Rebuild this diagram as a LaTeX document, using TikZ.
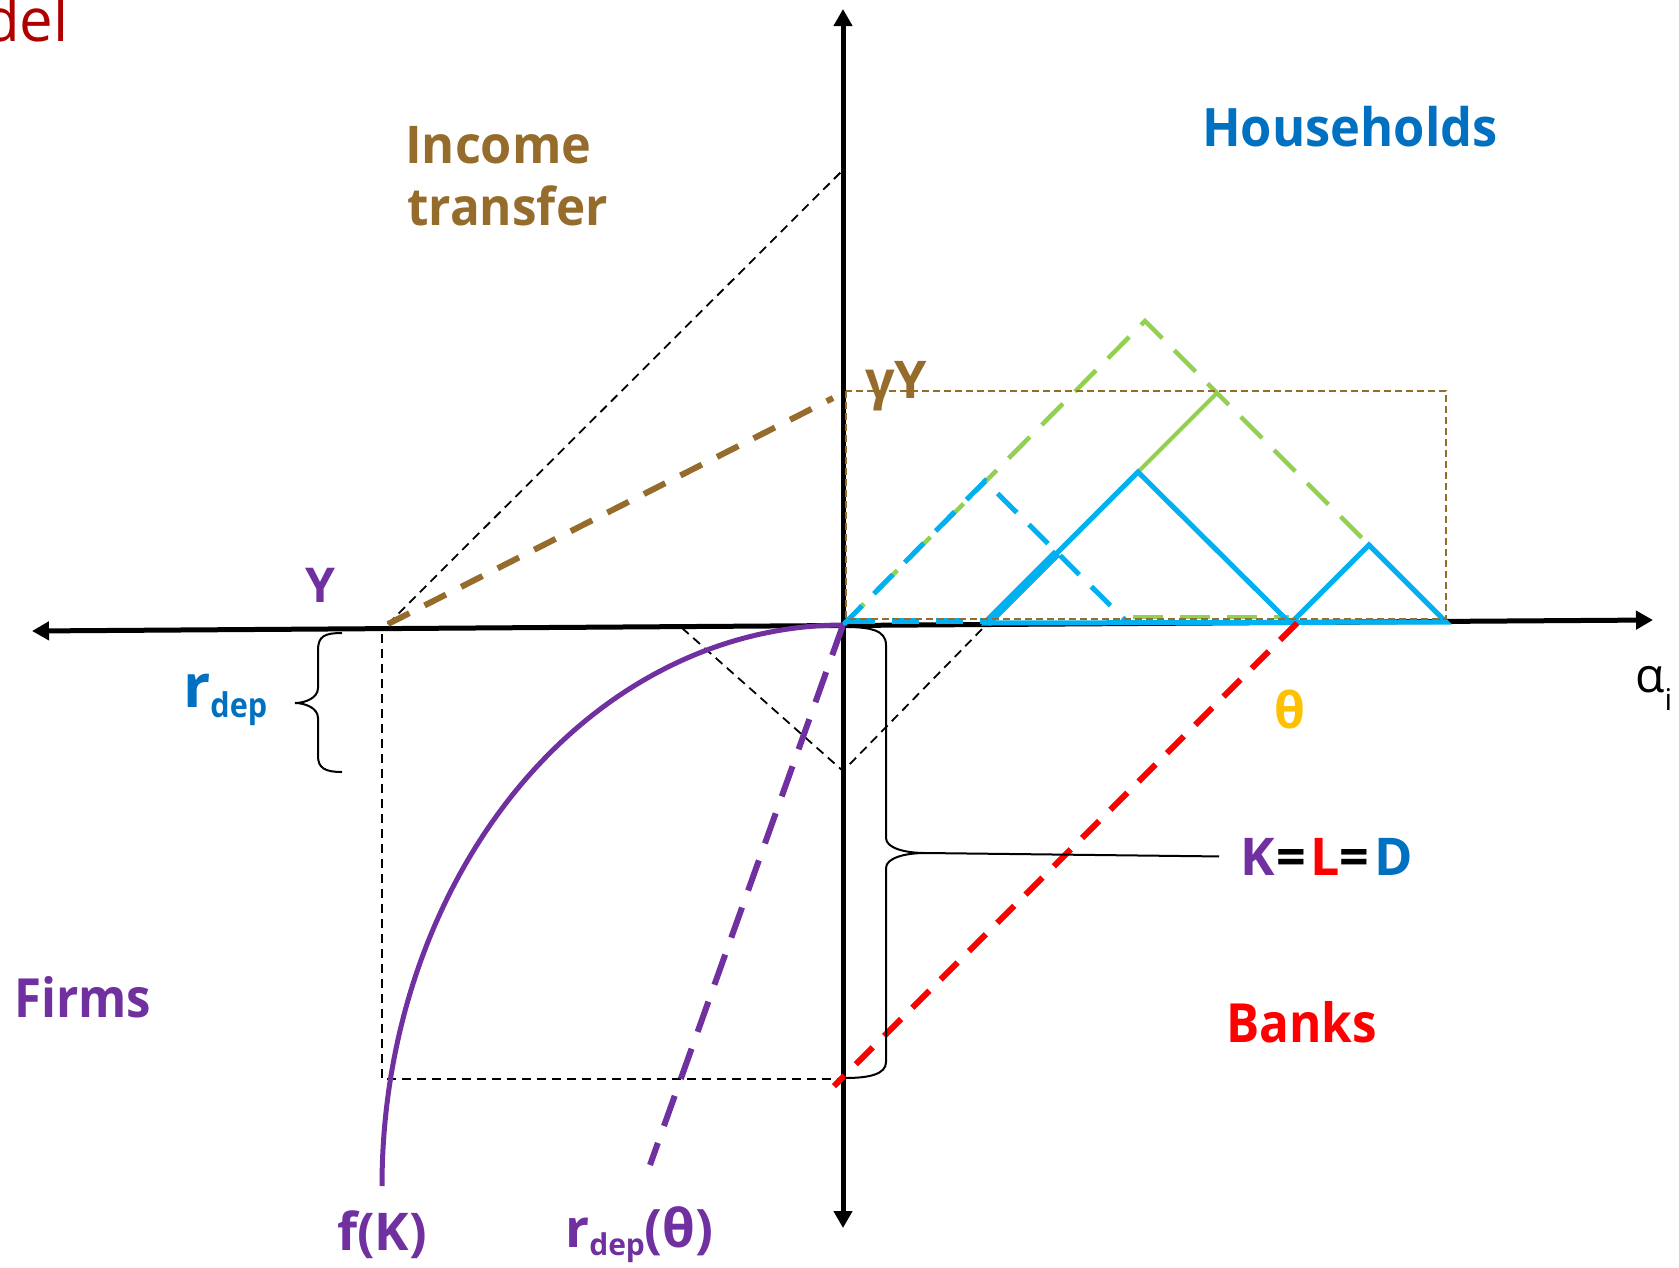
\documentclass[tikz,border=0pt]{standalone}
\usepackage{fontspec}
\setmainfont{Open Sans}
\usetikzlibrary{arrows.meta}
\definecolor{brn}{RGB}{150,108,44}
\definecolor{prp}{HTML}{7030A0}
\definecolor{dblue}{HTML}{0070C0}
\definecolor{lblue}{HTML}{00B0F0}
\definecolor{lgreen}{HTML}{92D050}
\definecolor{gold}{HTML}{FFC000}
\definecolor{rd}{HTML}{FF0000}
\definecolor{drd}{RGB}{175,0,0}
\newcommand{\fsz}[1]{\fontsize{#1}{#1}\selectfont}
\newcommand{\nrw}[2]{\scalebox{#1}[1]{#2}}
\begin{document}
\begin{tikzpicture}[x=1pt,y=-1pt,
  lbl/.style={inner sep=0pt, anchor=base west},
  axisline/.style={line width=5pt, {Triangle[length=17pt,width=18pt]}-{Triangle[length=17pt,width=18pt]}},
  guide/.style={line width=1.8pt, dash pattern=on 9pt off 6pt},
  bracepath/.style={line width=2pt},
  gdash/.style={lgreen, line width=4.5pt, dash pattern=on 30pt off 17pt},
  bdash/.style={lblue, line width=5pt, dash pattern=on 27pt off 17pt},
  bsolid/.style={lblue, line width=5pt, line join=miter},
]
\useasboundingbox (0,0) rectangle (1679,1267);
% coordinates
\coordinate (O) at (843,625);
\coordinate (axL) at (32,631);
\coordinate (axR) at (1653,620);
\coordinate (axT) at (843,9);
\coordinate (axB) at (843,1228);
\coordinate (Yp) at (388,624);
\coordinate (Yv) at (382,634);
\coordinate (Yb) at (382,1079);
\coordinate (Kb) at (843,1079);
\coordinate (vtop) at (843,170);
\coordinate (g1) at (682,628);
\coordinate (g2) at (843,771);
\coordinate (g3) at (987,624);
\coordinate (gYe) at (833,398);
\coordinate (tA) at (1145,321);
\coordinate (tB) at (1446,622);
\coordinate (sA) at (987,623);
\coordinate (sB) at (1217,393);
\coordinate (dA) at (985,481);
\coordinate (dB) at (1127,622);
\coordinate (p1) at (1138,472);
\coordinate (p2) at (1289,622);
\coordinate (p3) at (1292,622);
\coordinate (p4) at (1369,545);
\coordinate (rA) at (1297,623);
\coordinate (rB) at (834,1086);
\coordinate (pdB) at (650,1165);
\coordinate (bt) at (925,853);
% guides
\draw[guide] (Yp) -- (vtop);
\draw[guide] (Yv) -- (Yb) -- (Kb);
\draw[guide] (g1) -- (g2) -- (g3);
% axes
\draw[axisline] (axL) -- (axR);
\draw[axisline] (axB) -- (axT);
% green
\draw[gdash] (O) -- (tA) -- (tB);
\draw[gdash, line width=4pt] (1133,617) -- (1289,617);
\draw[lgreen, line width=4pt] (sA) -- (sB);
% blue
\draw[bdash] (O) -- (dA) -- (dB);
\draw[bdash, line width=6pt] (848,621) -- (987,621);
\draw[bsolid] (sA) -- (p1) -- (p2) -- (p3) -- (p4) -- (tB) -- cycle;
\draw[lblue, line width=9pt] (sA) -- (1057,553);
% brown
\draw[brn, line width=2pt, dash pattern=on 7pt off 4pt] (846,391) rectangle (1446,619);
\draw[brn, line width=6pt, dash pattern=on 24pt off 17pt] (Yp) -- (gYe);
% purple
\draw[prp, line width=5pt] plot[smooth, domain=0:90, samples=46] ({843-461*sin(\x)},{1186-561*cos(\x)});
\draw[prp, line width=6pt, dash pattern=on 32pt off 18pt] (O) -- (pdB);
% red
\draw[rd, line width=6pt, dash pattern=on 24pt off 16pt] (rA) -- (rB);
% braces
\draw[bracepath] (342,633) .. controls (325,633) and (318,636) .. (318,650) -- (318,688)
  .. controls (318,698) and (305,703) .. (295,703) .. controls (305,703) and (318,708) .. (318,718)
  -- (318,756) .. controls (318,768) and (325,772) .. (342,772);
\draw[bracepath] (845,627) .. controls (870,627) and (886,630) .. (886,645) -- (886,838)
  .. controls (886,848) and (905,853) .. (bt) .. controls (905,853) and (886,858) .. (886,868)
  -- (886,1062) .. controls (886,1074) and (870,1078) .. (845,1078);
% labels
\node[inner sep=0pt, anchor=base east, font=\fsz{60}, text=drd] (ttl) at (69,41) {del};
\node[lbl, font=\bfseries\fsz{52}, text=brn] (inc1) at (405,163) {\nrw{0.97}{Income}};
\node[lbl, font=\bfseries\fsz{52}, text=brn] (inc2) at (407,225) {\nrw{0.95}{transfer}};
\node[lbl, font=\bfseries\fsz{53}, text=dblue] (hh) at (1202,146) {\nrw{0.955}{Households}};
\node[lbl, font=\bfseries\fsz{52}, text=brn] (gy) at (865,398) {γY};
\node[lbl, font=\bfseries\fsz{48}, text=prp] (ylab) at (305,602) {Y};
\node[lbl, font=\bfseries\fsz{60}, text=dblue] (rdep) at (183,707) {r\raisebox{-10pt}{\fsz{34}\nrw{0.9}{dep}}};
\node[lbl, font=\bfseries\fsz{50}, text=gold] (th) at (1274,728) {θ};
\node[lbl, font=\fsz{48}] (al) at (1635,692) {α\raisebox{-18pt}{\fsz{30}i}};
\node[lbl, font=\bfseries\fsz{52}] (kld) at (1240,875) {\textcolor{prp}{\makebox[36pt][l]{K}}\makebox[34pt][l]{=}\textcolor{rd}{\makebox[29pt][l]{L}}\makebox[35pt][l]{=}\textcolor{dblue}{D}};
\node[lbl, font=\bfseries\fsz{54}, text=prp] (firms) at (14,1017) {\nrw{0.91}{Firms}};
\node[lbl, font=\bfseries\fsz{54}, text=rd] (banks) at (1226,1042) {\nrw{0.915}{Banks}};
\node[lbl, font=\bfseries\fsz{52}, text=prp] (fk) at (337,1250) {f(K)};
\node[lbl, font=\bfseries\fsz{53}, text=prp] (rdt) at (565,1247) {r\raisebox{-8pt}{\fsz{30}dep}(θ)};
\draw[line width=2pt] (bt) -- ([xshift=-21pt]kld.west);
\end{tikzpicture}
\end{document}
